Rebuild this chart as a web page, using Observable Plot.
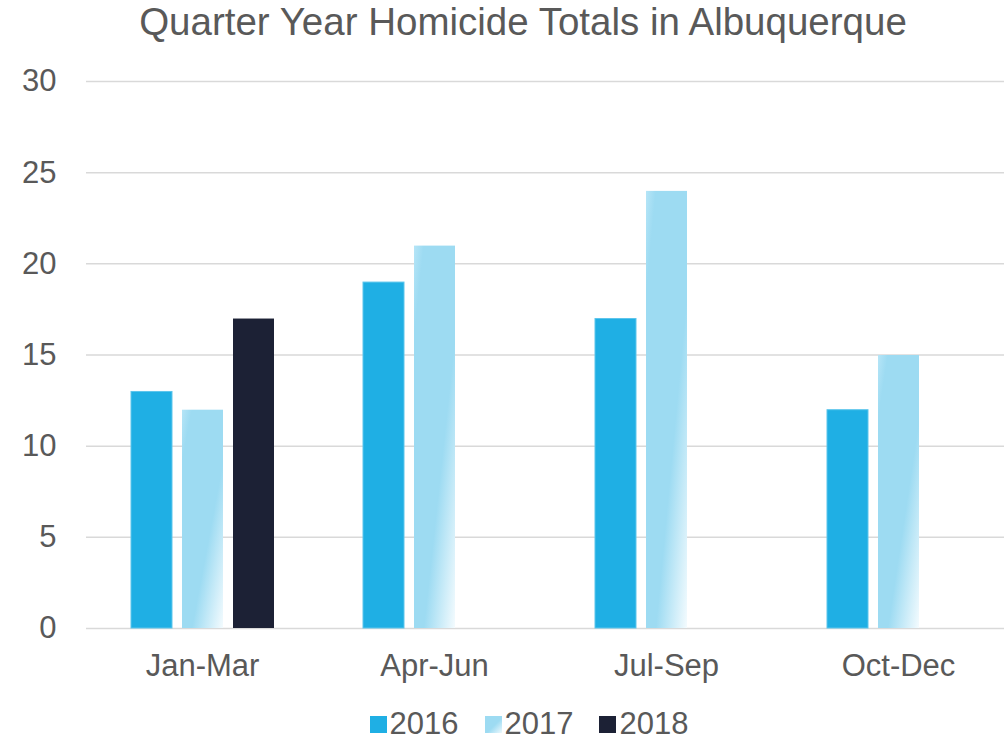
<!DOCTYPE html>
<html>
<head>
<meta charset="utf-8">
<script src="https://cdn.jsdelivr.net/npm/d3@7"></script>
<script src="https://cdn.jsdelivr.net/npm/@observablehq/plot@0.6"></script>
<style>
  html, body { margin: 0; padding: 0; background: #fff; }
  body { width: 1004px; font-family: "Liberation Sans", Arial, sans-serif; color: #595959; }
  #title { height: 44px; line-height: 44px; font-size: 38.5px; text-align: center; padding-left: 42px; color: #595959; white-space: nowrap; }
  #legend { display: flex; justify-content: center; align-items: center; padding-top: 16px; height: 36px; font-size: 31px; color: #595959; padding-left: 54px; }
  #legend .item { display: flex; align-items: center; margin: 0 13px; }
  #legend svg { margin-right: 3px; }
</style>
</head>
<body>
<div id="title">Quarter Year Homicide Totals in Albuquerque</div>
<div id="chart"></div>
<div id="legend"></div>
<script>
const quarters = ["Jan-Mar", "Apr-Jun", "Jul-Sep", "Oct-Dec"];
const years = ["2016", "2017", "2018"];
const values2016 = [13, 19, 17, 12];
const values2017 = [12, 21, 24, 15];
const values2018 = [17, null, null, null];
const yTicks = [0, 5, 10, 15, 20, 25, 30];
const colors = {"2016": "#1fafe4", "2017": "url(#grad2017)", "2018": "#1c2135"};

const data = [];
quarters.forEach((q, i) => {
  [[ "2016", values2016 ], [ "2017", values2017 ], [ "2018", values2018 ]].forEach(([yr, arr]) => {
    if (arr[i] != null) data.push({quarter: q, year: yr, value: arr[i]});
  });
});

const chart = Plot.plot({
  width: 1004,
  height: 646,
  marginLeft: 86,
  marginRight: -10,
  marginTop: 37,
  marginBottom: 62,
  style: {fontFamily: "Liberation Sans, Arial, sans-serif", fontSize: "31px", color: "#595959", background: "#fff"},
  fx: {domain: quarters, paddingInner: 0, paddingOuter: 0, axis: "bottom", label: null, tickSize: 0, tickPadding: 25},
  x: {domain: years, paddingInner: 0.204, paddingOuter: 0.854, axis: null},
  y: {domain: [0, 30], ticks: yTicks, tickSize: 0, tickPadding: 30, label: null},
  marks: [
    Plot.ruleY(yTicks, {stroke: "#d9d9d9", strokeWidth: 1.5}),
    Plot.barY(data, {
      fx: "quarter",
      x: "year",
      y: "value",
      fill: d => colors[d.year],
      stroke: d => d.year === "2016" ? "#5cc5ec" : "none",
      strokeWidth: 1,
      insetTop: 0.5
    })
  ]
});

const defs = d3.select(chart).insert("defs", ":first-child");
const g = defs.append("linearGradient").attr("id", "grad2017")
  .attr("x1", 0).attr("y1", 0).attr("x2", 1).attr("y2", 1);
g.append("stop").attr("offset", "0").attr("stop-color", "#b6e5f7");
g.append("stop").attr("offset", "0.12").attr("stop-color", "#9ddbf2");
g.append("stop").attr("offset", "0.62").attr("stop-color", "#9ddbf2");
g.append("stop").attr("offset", "1").attr("stop-color", "#f4fbfe");

document.getElementById("chart").appendChild(chart);

// legend
const legend = d3.select("#legend");
years.forEach(yr => {
  const item = legend.append("div").attr("class", "item");
  const s = item.append("svg").attr("width", 17).attr("height", 17);
  const sd = s.append("defs").append("linearGradient").attr("id", "lg" + yr)
    .attr("x1", 0).attr("y1", 0).attr("x2", 1).attr("y2", 1);
  sd.append("stop").attr("offset", "0").attr("stop-color", "#9ddbf2");
  sd.append("stop").attr("offset", "0.55").attr("stop-color", "#9ddbf2");
  sd.append("stop").attr("offset", "1").attr("stop-color", "#eef9fd");
  s.append("rect").attr("width", 17).attr("height", 17)
    .attr("fill", yr === "2017" ? "url(#lg2017)" : colors[yr]);
  item.append("span").text(yr);
});
</script>
</body>
</html>
